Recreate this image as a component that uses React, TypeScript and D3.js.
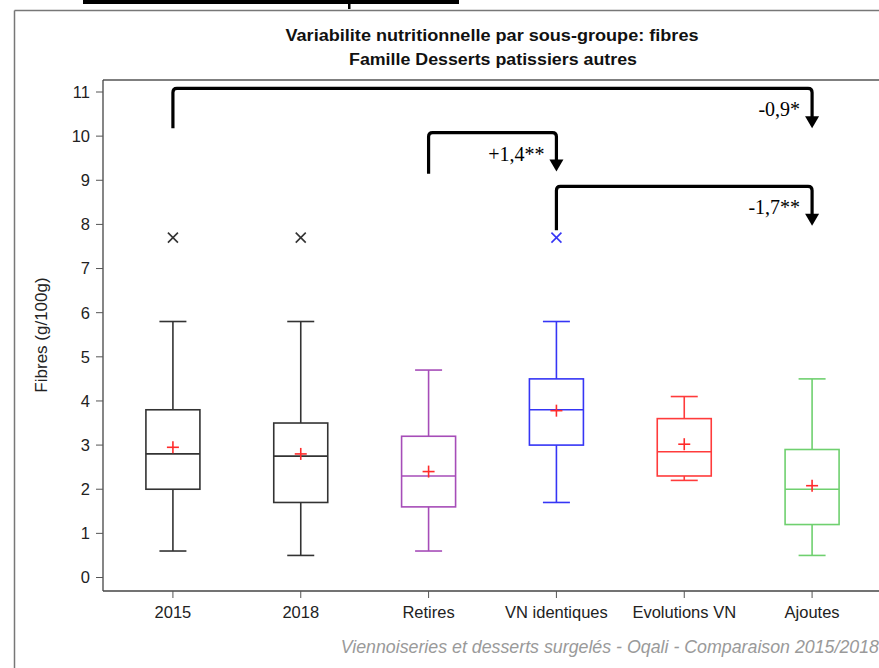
import React from "react";
import * as d3 from "d3";

const categories = ["2015", "2018", "Retires", "VN identiques", "Evolutions VN", "Ajoutes"];
const whiskerLow = [0.6, 0.5, 0.6, 1.7, 2.2, 0.5];
const q1 = [2.0, 1.7, 1.6, 3.0, 2.3, 1.2];
const median = [2.8, 2.75, 2.3, 3.8, 2.85, 2.0];
const q3 = [3.8, 3.5, 3.2, 4.5, 3.6, 2.9];
const whiskerHigh = [5.8, 5.8, 4.7, 5.8, 4.1, 4.5];
const means = [2.95, 2.8, 2.4, 3.78, 3.02, 2.08];
const outliers: (number | null)[] = [7.7, 7.7, null, 7.7, null, null];
const colors = ["#333333", "#333333", "#a64db8", "#3535f5", "#ff3b3b", "#6fd06f"];
const yTicks = [0, 1, 2, 3, 4, 5, 6, 7, 8, 9, 10, 11];

// comparison brackets: from category, to category, top level, left foot level, arrow tip level, label
const bracketFrom = ["2015", "Retires", "VN identiques"];
const bracketTo = ["Ajoutes", "VN identiques", "Ajoutes"];
const bracketTop = [11.08, 10.08, 8.86];
const bracketFoot = [10.18, 9.15, 7.87];
const bracketTip = [10.18, 9.2, 7.97];
const bracketLabels = ["-0,9*", "+1,4**", "-1,7**"];

const title1 = "Variabilite nutritionnelle par sous-groupe: fibres";
const title2 = "Famille Desserts patissiers autres";
const yLabel = "Fibres (g/100g)";
const footnote = "Viennoiseries et desserts surgelés - Oqali - Comparaison 2015/2018";

export default function App() {
  const W = 879, H = 668;
  const plotLeft = 103, plotTop = 80, plotBottom = 591;
  const x = d3.scaleBand<string>().domain(categories).range([109, 876]).padding(0);
  const cx = (c: string) => (x(c) as number) + x.bandwidth() / 2;
  const y = d3.scaleLinear().domain([0, 11]).range([577.5, 92]);
  const boxW = 54, capW = 27;
  const sans = "'Liberation Sans', Arial, sans-serif";
  const serif = "'Liberation Serif', 'DejaVu Serif', serif";

  return (
    <svg width={W} height={H} style={{ position: "absolute", left: 0, top: 0, background: "#fff" }}>
      {/* cropped header bar */}
      <rect x={83} y={0} width={376} height={4} fill="#000" />
      <rect x={348} y={4} width={2.5} height={5} fill="#000" />
      {/* outer frame */}
      <line x1={14.5} y1={10.5} x2={W} y2={10.5} stroke="#777" strokeWidth={1.5} />
      <line x1={14.5} y1={10.5} x2={14.5} y2={H} stroke="#777" strokeWidth={1.5} />

      {/* titles */}
      <text x={492} y={41} textAnchor="middle" fontFamily={sans} fontWeight="bold" fontSize={16}
        textLength={413} lengthAdjust="spacingAndGlyphs" fill="#111">{title1}</text>
      <text x={493} y={65} textAnchor="middle" fontFamily={sans} fontWeight="bold" fontSize={16}
        textLength={288} lengthAdjust="spacingAndGlyphs" fill="#111">{title2}</text>

      {/* plot frame */}
      <line x1={plotLeft} y1={plotTop} x2={W} y2={plotTop} stroke="#555" strokeWidth={1.3} />
      <line x1={plotLeft} y1={plotTop} x2={plotLeft} y2={plotBottom} stroke="#444" strokeWidth={1.3} />
      <line x1={plotLeft} y1={plotBottom} x2={W} y2={plotBottom} stroke="#444" strokeWidth={1.3} />

      {/* y axis */}
      {yTicks.map((t) => (
        <g key={t}>
          <line x1={plotLeft - 7} x2={plotLeft} y1={y(t)} y2={y(t)} stroke="#555" strokeWidth={1} />
          <text x={plotLeft - 13} y={y(t)} dy="0.36em" textAnchor="end" fontFamily={sans} fontSize={16.5} fill="#222">{t}</text>
        </g>
      ))}
      <text transform={`translate(47,${335}) rotate(-90)`} textAnchor="middle" fontFamily={sans} fontSize={17} fill="#222">{yLabel}</text>

      {/* x axis */}
      {categories.map((c) => (
        <g key={c}>
          <line x1={cx(c)} x2={cx(c)} y1={plotBottom} y2={plotBottom + 7} stroke="#555" strokeWidth={1} />
          <text x={cx(c)} y={618} textAnchor="middle" fontFamily={sans} fontSize={16.5} fill="#222">{c}</text>
        </g>
      ))}

      {/* boxes */}
      {categories.map((c, i) => {
        const X = cx(c);
        const col = colors[i];
        const sw = 1.6;
        return (
          <g key={c} stroke={col} strokeWidth={sw} fill="none">
            <line x1={X} x2={X} y1={y(whiskerHigh[i])} y2={y(q3[i])} />
            <line x1={X} x2={X} y1={y(q1[i])} y2={y(whiskerLow[i])} />
            <line x1={X - capW / 2} x2={X + capW / 2} y1={y(whiskerHigh[i])} y2={y(whiskerHigh[i])} />
            <line x1={X - capW / 2} x2={X + capW / 2} y1={y(whiskerLow[i])} y2={y(whiskerLow[i])} />
            <rect x={X - boxW / 2} y={y(q3[i])} width={boxW} height={y(q1[i]) - y(q3[i])} />
            <line x1={X - boxW / 2} x2={X + boxW / 2} y1={y(median[i])} y2={y(median[i])} />
            <g stroke="#ff2b2b" strokeWidth={1.6}>
              <line x1={X - 6} x2={X + 6} y1={y(means[i])} y2={y(means[i])} />
              <line x1={X} x2={X} y1={y(means[i]) - 6} y2={y(means[i]) + 6} />
            </g>
            {outliers[i] !== null && (
              <g strokeWidth={1.6}>
                <line x1={X - 5} x2={X + 5} y1={y(outliers[i] as number) - 5} y2={y(outliers[i] as number) + 5} />
                <line x1={X - 5} x2={X + 5} y1={y(outliers[i] as number) + 5} y2={y(outliers[i] as number) - 5} />
              </g>
            )}
          </g>
        );
      })}

      {/* brackets */}
      {bracketFrom.map((f, i) => {
        const x1 = cx(f), x2 = cx(bracketTo[i]);
        const yt = y(bracketTop[i]), yf = y(bracketFoot[i]), ytip = y(bracketTip[i]);
        const r = 4;
        const path = `M${x1},${yf} L${x1},${yt + r} Q${x1},${yt} ${x1 + r},${yt} L${x2 - r},${yt} Q${x2},${yt} ${x2},${yt + r} L${x2},${ytip - 10}`;
        return (
          <g key={i}>
            <path d={path} fill="none" stroke="#000" strokeWidth={3.2} />
            <path d={`M${x2 - 7},${ytip - 12} L${x2 + 7},${ytip - 12} L${x2},${ytip} Z`} fill="#000" />
            <text x={x2 - 12} y={yt + 28} textAnchor="end" fontFamily={serif} fontSize={20} fill="#000">{bracketLabels[i]}</text>
          </g>
        );
      })}

      {/* footnote */}
      <text x={879} y={653} textAnchor="end" fontFamily={sans} fontStyle="italic" fontSize={17.8} fill="#9a9a9a">{footnote}</text>
    </svg>
  );
}
